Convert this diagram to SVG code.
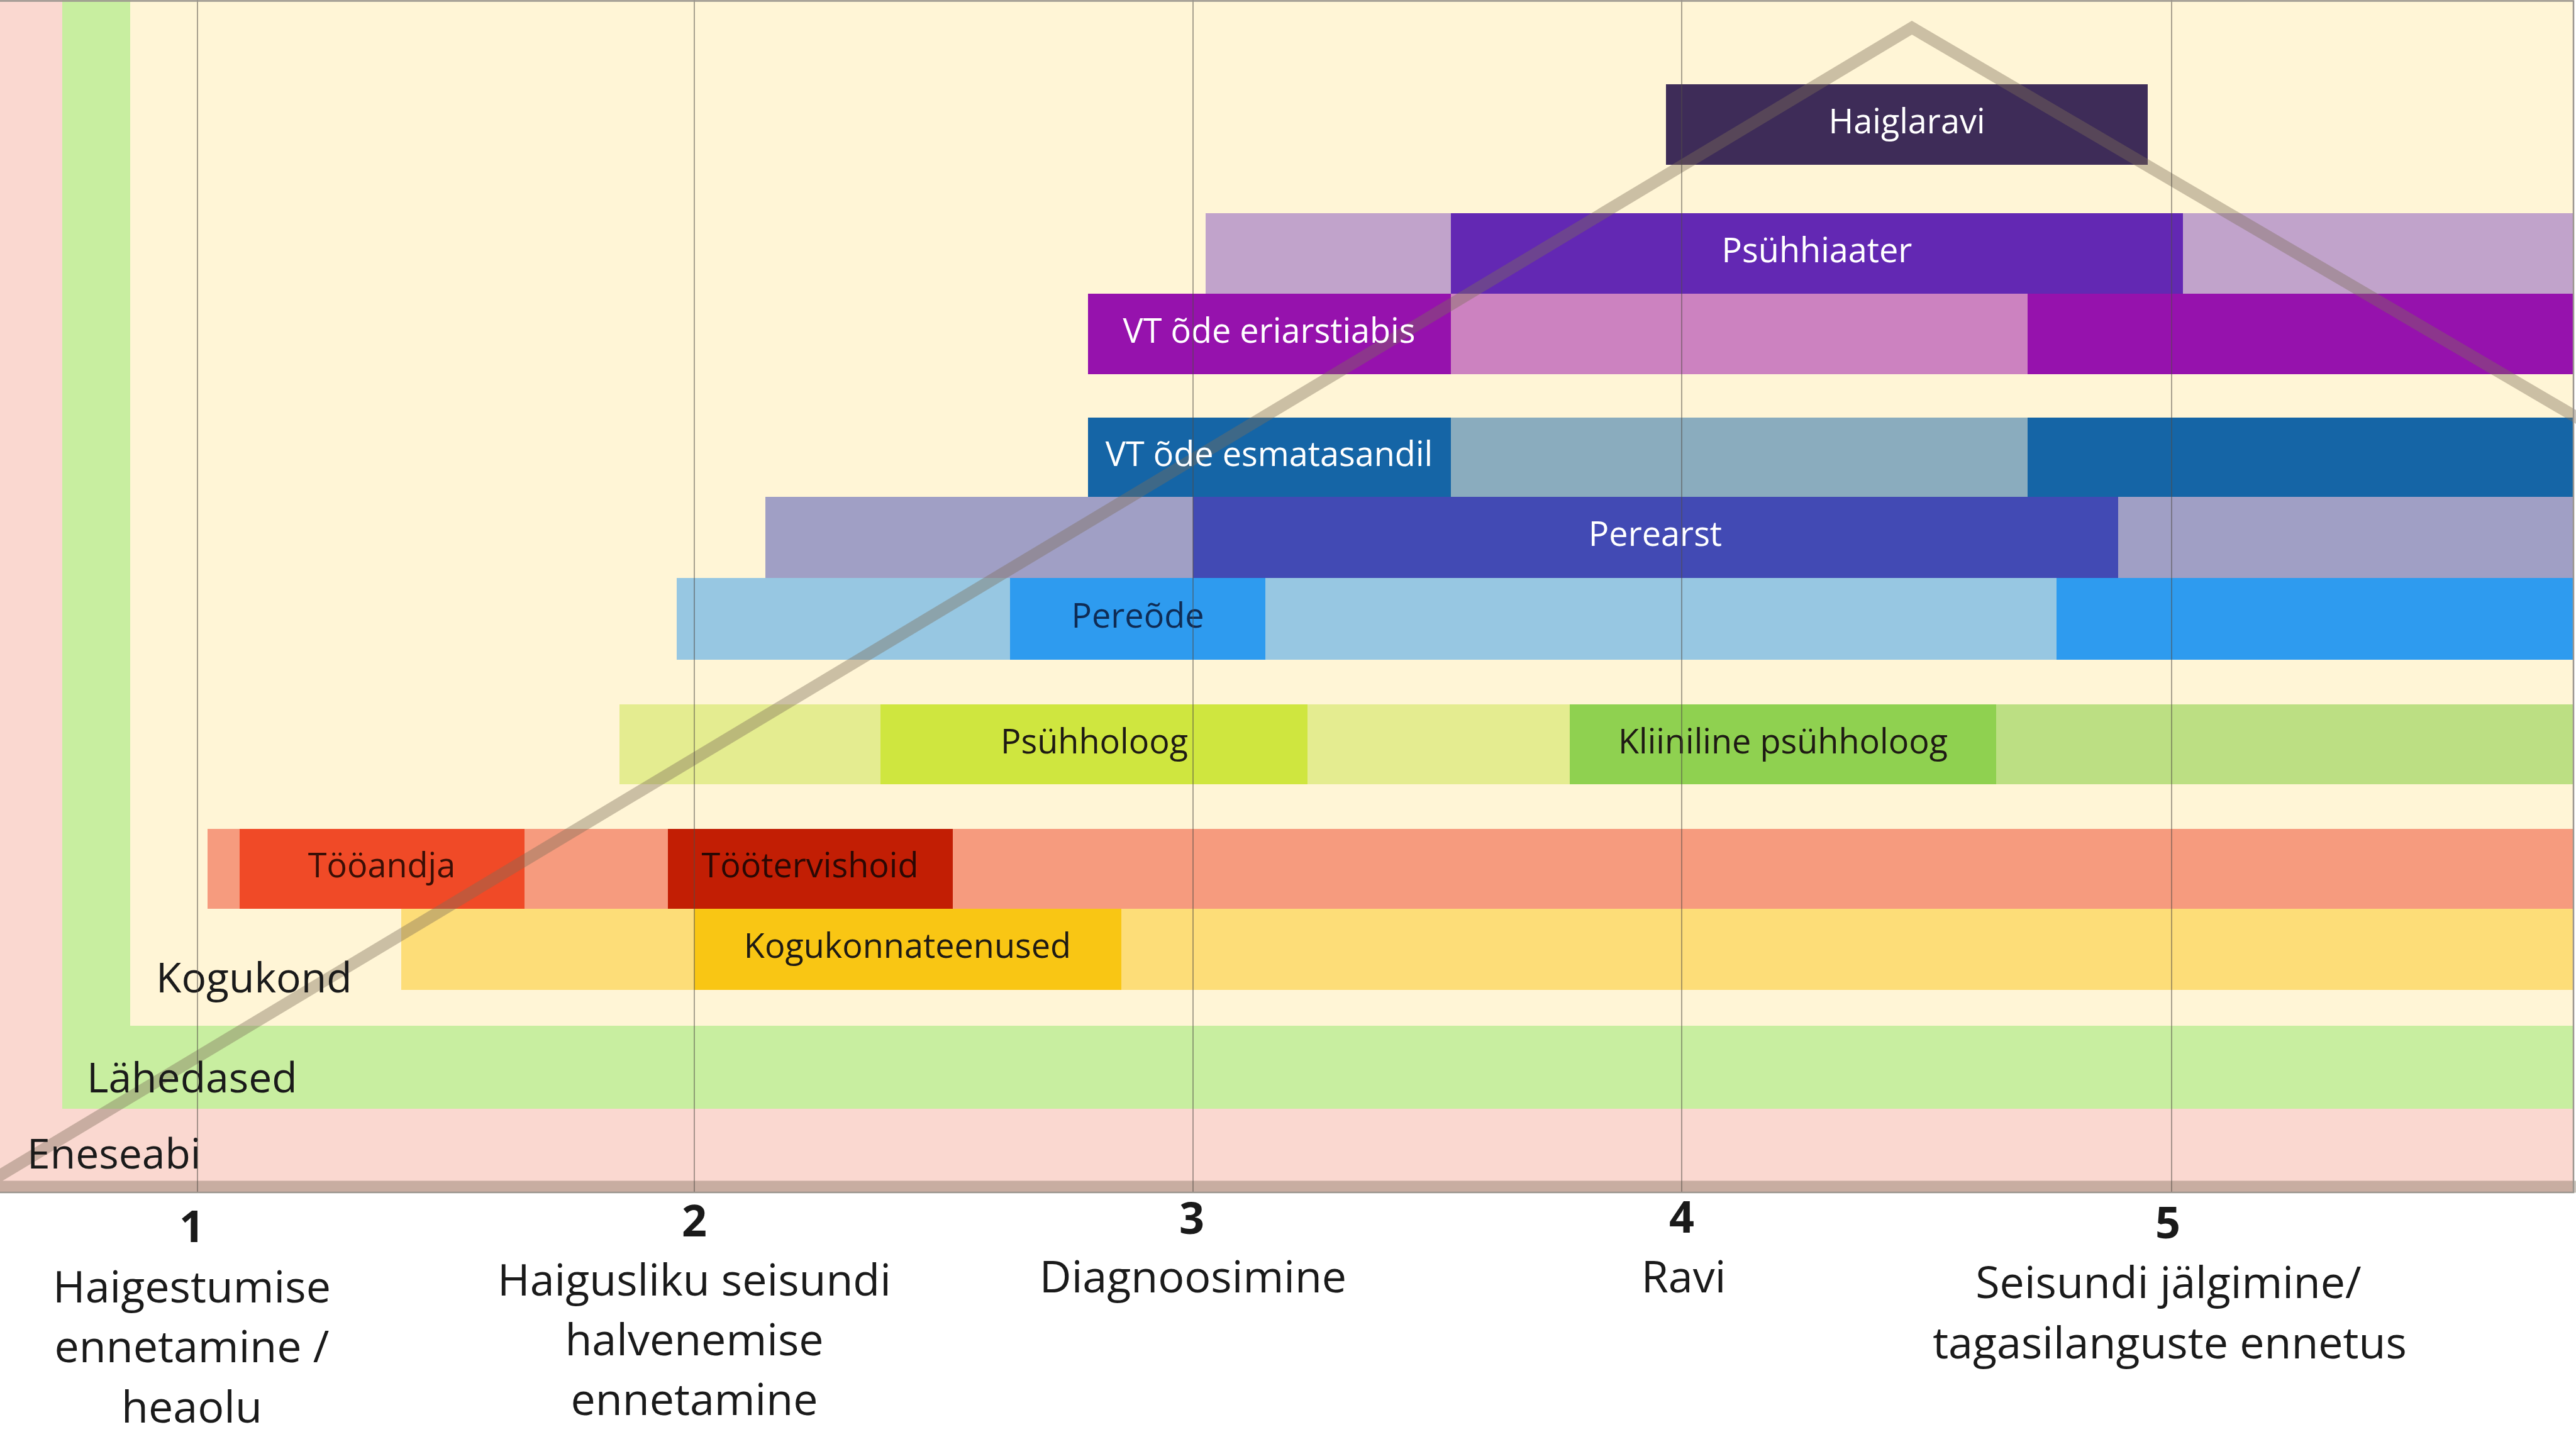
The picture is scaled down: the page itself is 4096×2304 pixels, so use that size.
<svg xmlns="http://www.w3.org/2000/svg" width="4096" height="2304" viewBox="0 0 4096 2304">
<style>
.lbl{font-family:"Open Sans","Liberation Sans",sans-serif;font-size:54px;text-anchor:middle}
.w{fill:#ffffff}
.d{fill:#1e1a14}
.side{font-family:"Open Sans","Liberation Sans",sans-serif;font-size:66px;fill:#1a1a1a}
.ax{font-family:"Open Sans","Liberation Sans",sans-serif;font-size:70px;fill:#1a1a1a;text-anchor:middle}
.num{font-weight:bold}
.grid{stroke:#4f4b45;stroke-opacity:0.5;stroke-width:2;fill:none}
</style>
<rect x="0" y="0" width="4096" height="2304" fill="#ffffff"/>
<g id="background">
  <rect id="eneseabi-band" x="0" y="0" width="4092" height="1897" fill="#fad8d0"/>
  <rect id="lahedased-band" x="99" y="0" width="3993" height="1763" fill="#c8eea0"/>
  <rect id="kogukond-band" x="207" y="0" width="3885" height="1631" fill="#fff5d6"/>
</g>
<g id="haiglaravi">
  <rect x="2649" y="134" width="766" height="128" fill="#3e2c58"/>
</g>
<g id="psuhhiaater">
  <rect x="1917" y="339" width="390" height="128" fill="#c1a3cb"/>
  <rect x="2307" y="339" width="1164" height="128" fill="#6328b3"/>
  <rect x="3471" y="339" width="621" height="128" fill="#c1a3cb"/>
</g>
<g id="vt-ode-eriarstiabis">
  <rect x="1730" y="467" width="577" height="128" fill="#9612ad"/>
  <rect x="2307" y="467" width="917" height="128" fill="#cc82c0"/>
  <rect x="3224" y="467" width="868" height="128" fill="#9612ad"/>
</g>
<g id="vt-ode-esmatasandil">
  <rect x="1730" y="664" width="577" height="126" fill="#1565a6"/>
  <rect x="2307" y="664" width="917" height="126" fill="#8aacbe"/>
  <rect x="3224" y="664" width="868" height="126" fill="#1565a6"/>
</g>
<g id="perearst">
  <rect x="1217" y="790" width="680" height="129" fill="#a09fc5"/>
  <rect x="1897" y="790" width="1471" height="129" fill="#424ab4"/>
  <rect x="3368" y="790" width="724" height="129" fill="#a09fc5"/>
</g>
<g id="pereode">
  <rect x="1076" y="919" width="530" height="130" fill="#97c7e2"/>
  <rect x="1606" y="919" width="406" height="130" fill="#2e9bef"/>
  <rect x="2012" y="919" width="1258" height="130" fill="#97c7e2"/>
  <rect x="3270" y="919" width="822" height="130" fill="#2e9bef"/>
</g>
<g id="psuhholoog">
  <rect x="985" y="1120" width="415" height="127" fill="#e4ec90"/>
  <rect x="1400" y="1120" width="679" height="127" fill="#cfe63f"/>
  <rect x="2079" y="1120" width="417" height="127" fill="#e4ec90"/>
</g>
<g id="kliiniline-psuhholoog">
  <rect x="2496" y="1120" width="678" height="127" fill="#8fd150"/>
  <rect x="3174" y="1120" width="918" height="127" fill="#bcdf83"/>
</g>
<g id="tooandja">
  <rect x="330" y="1318" width="51" height="127" fill="#f69b7e"/>
  <rect x="381" y="1318" width="453" height="127" fill="#f04a27"/>
  <rect x="834" y="1318" width="228" height="127" fill="#f69b7e"/>
</g>
<g id="tootervishoid">
  <rect x="1062" y="1318" width="453" height="127" fill="#c21e04"/>
  <rect x="1515" y="1318" width="2577" height="127" fill="#f69b7e"/>
</g>
<g id="kogukonnateenused">
  <rect x="638" y="1445" width="466" height="129" fill="#fddd78"/>
  <rect x="1104" y="1445" width="679" height="129" fill="#f9c614"/>
  <rect x="1783" y="1445" width="2309" height="129" fill="#fddd78"/>
</g>
<g id="connectors">
  <polygon id="pyramid" points="-30,1887 3040,44 6184,1887" fill="none" stroke="#7d6f5a" stroke-opacity="0.4" stroke-width="19" stroke-linejoin="miter" stroke-miterlimit="10"/>
</g>
<g id="labels">
  <text class="lbl w" x="3032" y="212">Haiglaravi</text>
  <text class="lbl w" x="2889" y="417">Psühhiaater</text>
  <text class="lbl w" x="2018" y="545">VT õde eriarstiabis</text>
  <text class="lbl w" x="2018" y="741">VT õde esmatasandil</text>
  <text class="lbl w" x="2632" y="868">Perearst</text>
  <text class="lbl" x="1809" y="998" fill="#0f2c55">Pereõde</text>
  <text class="lbl d" x="1740" y="1198">Psühholoog</text>
  <text class="lbl d" x="2835" y="1198">Kliiniline psühholoog</text>
  <text class="lbl" x="607" y="1395" fill="#3a0f06">Tööandja</text>
  <text class="lbl" x="1288" y="1395" fill="#2a0804">Töötervishoid</text>
  <text class="lbl d" x="1443" y="1523">Kogukonnateenused</text>
  <text class="side" x="248" y="1578">Kogukond</text>
  <text class="side" x="138" y="1737">Lähedased</text>
  <text class="side" x="43" y="1858">Eneseabi</text>
</g>
<g id="grid">
  <line class="grid" x1="314" y1="0" x2="314" y2="1897"/>
  <line class="grid" x1="1104" y1="0" x2="1104" y2="1897"/>
  <line class="grid" x1="1897" y1="0" x2="1897" y2="1897"/>
  <line class="grid" x1="2674" y1="0" x2="2674" y2="1897"/>
  <line class="grid" x1="3453" y1="0" x2="3453" y2="1897"/>
  <path d="M0,1.5 H4092 V1896 H0" fill="none" stroke="#9a958e" stroke-width="2.5"/>
</g>
<g id="axis">
  <g id="stage-1">
    <text class="ax num" x="305" y="1975">1</text>
    <text class="ax" x="305" y="2071">Haigestumise</text>
    <text class="ax" x="305" y="2166">ennetamine /</text>
    <text class="ax" x="305" y="2262">heaolu</text>
  </g>
  <g id="stage-2">
    <text class="ax num" x="1104" y="1966">2</text>
    <text class="ax" x="1104" y="2060">Haigusliku seisundi</text>
    <text class="ax" x="1104" y="2155">halvenemise</text>
    <text class="ax" x="1104" y="2250">ennetamine</text>
  </g>
  <g id="stage-3">
    <text class="ax num" x="1895" y="1962">3</text>
    <text class="ax" x="1897" y="2055">Diagnoosimine</text>
  </g>
  <g id="stage-4">
    <text class="ax num" x="2674" y="1960">4</text>
    <text class="ax" x="2677" y="2055">Ravi</text>
  </g>
  <g id="stage-5">
    <text class="ax num" x="3447" y="1969">5</text>
    <text class="ax" x="3448" y="2064">Seisundi jälgimine/</text>
    <text class="ax" x="3450" y="2160">tagasilanguste ennetus</text>
  </g>
</g>
</svg>
